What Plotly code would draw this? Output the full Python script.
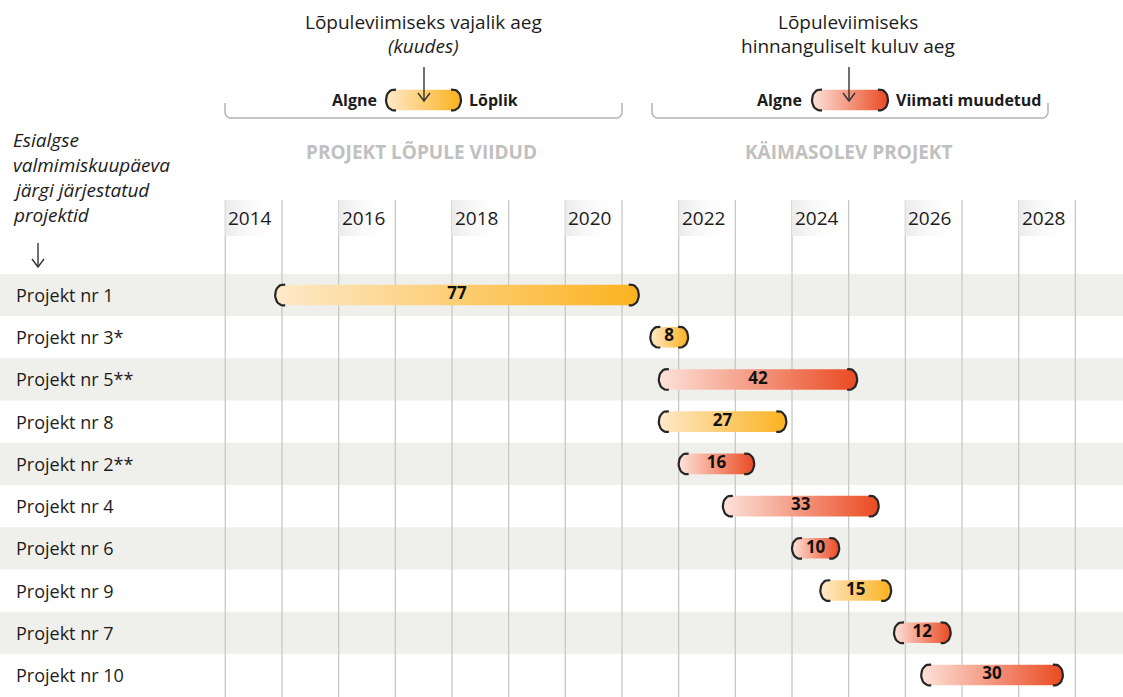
import math
import plotly.graph_objects as go

# ---------------- data ----------------
projects = ["Projekt nr 1", "Projekt nr 3*", "Projekt nr 5**", "Projekt nr 8", "Projekt nr 2**",
            "Projekt nr 4", "Projekt nr 6", "Projekt nr 9", "Projekt nr 7", "Projekt nr 10"]
start_year = [2014.88, 2021.50, 2021.65, 2021.65, 2022.00, 2022.78, 2024.00, 2024.50, 2025.80, 2026.28]
duration_months = [77, 8, 42, 27, 16, 33, 10, 15, 12, 30]
status = ["done", "done", "ongoing", "done", "ongoing", "ongoing", "ongoing", "done", "ongoing", "ongoing"]
grid_years = list(range(2014, 2030))
label_years = list(range(2014, 2029, 2))

# ---------------- geometry helpers ----------------
W, H = 1123, 697
PX_PER_YEAR = 56.67
X_2014 = 225.3
ROW0_PX = 295.0
ROW_PX = 42.22

def xd(px):
    return 2014 + (px - X_2014) / PX_PER_YEAR

def yd(py):
    return (py - ROW0_PX) / ROW_PX

def xp(px):
    return px / W

def yp(py):
    return 1 - py / H

FONT = "Open Sans"
DARK = "#1c1c1c"
COLORS = {
    "done": ["#fee9c9", "#fbb21f"],
    "ongoing": ["#fde2da", "#ea4a22"],
}

fig = go.Figure()

def arc(cx, cy, rx, ry, a0, a1, n=14):
    xs, ys = [], []
    for k in range(n + 1):
        t = math.radians(a0 + (a1 - a0) * k / n)
        xs.append(cx + rx * math.cos(t))
        ys.append(cy + ry * math.sin(t))
    return xs, ys

def pill(x0, x1, yc, colors, hpx=10.3, rpx=7.5, tail=2.5):
    dx = 1 / PX_PER_YEAR
    dy = 1 / ROW_PX
    rx, h, tl = rpx * dx, hpx * dy, tail * dx
    xs, ys = [], []
    ax, ay = arc(x1 - rx, yc, rx, h, -90, 90); xs += ax; ys += ay
    ax, ay = arc(x0 + rx, yc, rx, h, 90, 270); xs += ax; ys += ay
    xs.append(xs[0]); ys.append(ys[0])
    fig.add_trace(go.Scatter(
        x=xs, y=ys, fill="toself", mode="lines", line=dict(width=0),
        fillgradient=dict(type="horizontal", colorscale=[[0, colors[0]], [1, colors[1]]]),
        hoverinfo="skip", showlegend=False))
    # brackets
    bx, by = [x0 + rx + tl], [yc - h]
    ax, ay = arc(x0 + rx, yc, rx, h, 270, 90); bx += ax; by += ay
    bx += [x0 + rx + tl, None]; by += [yc + h, None]
    bx += [x1 - rx - tl]; by += [yc - h]
    ax, ay = arc(x1 - rx, yc, rx, h, -90, 90); bx += ax; by += ay
    bx += [x1 - rx - tl]; by += [yc + h]
    fig.add_trace(go.Scatter(x=bx, y=by, mode="lines", line=dict(color="#262626", width=2.2),
                             hoverinfo="skip", showlegend=False))

shapes = []
# row bands
for i in range(len(projects)):
    if i % 2 == 0:
        shapes.append(dict(type="rect", xref="paper", yref="y", x0=0, x1=1, y0=i - 0.5, y1=i + 0.5,
                           fillcolor="#efefeb", line=dict(width=0), layer="below"))
# grid lines
for yr in grid_years:
    shapes.append(dict(type="line", xref="x", yref="y", x0=yr, x1=yr, y0=yd(200), y1=yd(H),
                       line=dict(color="#c8c8c8", width=1.3), layer="below"))

# year label backgrounds
for yr in label_years:
    x0, x1 = yr, yr + 52 / PX_PER_YEAR
    y0, y1 = yd(200), yd(236)
    fig.add_trace(go.Scatter(
        x=[x0, x1, x1, x0, x0], y=[y0, y0, y1, y1, y0], fill="toself", mode="lines",
        line=dict(width=0),
        fillgradient=dict(type="horizontal", colorscale=[[0, "#ebebeb"], [1, "rgba(255,255,255,0)"]]),
        hoverinfo="skip", showlegend=False))

# bars
for i, (s, m, st) in enumerate(zip(start_year, duration_months, status)):
    pill(s, s + m / 12, i, COLORS[st])

fig.add_trace(go.Scatter(
    x=[s + m / 24 for s, m in zip(start_year, duration_months)],
    y=list(range(len(projects))),
    text=[str(m) for m in duration_months], mode="text",
    textfont=dict(family=FONT, size=17, color="#111111", weight="bold"),
    textposition="middle center", hoverinfo="skip", showlegend=False))

# legend pills
pill(xd(386), xd(461), yd(100), COLORS["done"])
pill(xd(812), xd(888), yd(100), COLORS["ongoing"])

annotations = []
# row labels
for i, p in enumerate(projects):
    annotations.append(dict(x=xp(14), xref="paper", y=i, yref="y", text=p, showarrow=False,
                            xanchor="left", yanchor="middle", font=dict(family=FONT, size=18, color=DARK)))
# year labels
for yr in label_years:
    annotations.append(dict(x=yr + 1 / PX_PER_YEAR, xref="x", y=yd(218), yref="y", text=str(yr),
                            showarrow=False, xanchor="left", yanchor="middle",
                            font=dict(family=FONT, size=19, color=DARK)))

def txt(px, py, text, size=16, color=DARK, anchor="center", bold=False, italic=False):
    annotations.append(dict(x=xp(px), y=yp(py), xref="paper", yref="paper", text=text, showarrow=False,
                            xanchor=anchor, yanchor="middle",
                            font=dict(family=FONT, size=size, color=color,
                                      weight="bold" if bold else "normal",
                                      style="italic" if italic else "normal")))

txt(423, 22, "Lõpuleviimiseks vajalik aeg", 19)
txt(423, 46, "(kuudes)", 19, italic=True)
txt(848, 22, "Lõpuleviimiseks", 19)
txt(848, 46, "hinnanguliselt kuluv aeg", 19)
txt(379, 100, "Algne", 16, anchor="right", bold=True)
txt(467, 100, "Lõplik", 16, anchor="left", bold=True)
txt(804, 100, "Algne", 16, anchor="right", bold=True)
txt(894, 100, "Viimati muudetud", 16, anchor="left", bold=True)
txt(421, 152, "PROJEKT LÕPULE VIIDUD", 19, color="#c0c0c0", bold=True)
txt(848, 152, "KÄIMASOLEV PROJEKT", 19, color="#c0c0c0", bold=True)
for k, line in enumerate(["Esialgse", "valmimiskuupäeva", "järgi järjestatud", "projektid"]):
    txt(11, 140 + k * 25, line, 19, anchor="left", italic=True)

def ppath(points):
    d = ""
    for k, (px, py) in enumerate(points):
        d += ("M" if k == 0 else "L") + f"{xp(px):.5f},{yp(py):.5f} "
    return d

def arrow(px, y0, y1, hw=6, hh=8, width=1.4):
    shapes.append(dict(type="path", xref="paper", yref="paper", path=ppath([(px, y0), (px, y1)]),
                       line=dict(color="#333333", width=width)))
    shapes.append(dict(type="path", xref="paper", yref="paper",
                       path=ppath([(px - hw, y1 - hh), (px, y1), (px + hw, y1 - hh)]),
                       line=dict(color="#333333", width=width)))

arrow(424, 67, 101)
arrow(849, 67, 101)
arrow(38, 243, 267)

def brace(x0, x1, ytop=103, ybot=118, r=6):
    pts = [(x0, ytop)]
    for k in range(0, 11):
        t = math.radians(180 - 90 * k / 10)
        pts.append((x0 + r + r * math.cos(t), ybot - r + r * math.sin(t)))
    for k in range(0, 11):
        t = math.radians(90 - 90 * k / 10)
        pts.append((x1 - r + r * math.cos(t), ybot - r + r * math.sin(t)))
    pts.append((x1, ytop))
    shapes.append(dict(type="path", xref="paper", yref="paper", path=ppath(pts),
                       line=dict(color="#b4b4b4", width=1.5)))

brace(225, 622)
brace(652, 1048)

fig.update_layout(
    width=W, height=H, margin=dict(l=0, r=0, t=0, b=0),
    paper_bgcolor="white", plot_bgcolor="white",
    xaxis=dict(range=[xd(0), xd(W)], showgrid=False, zeroline=False, showticklabels=False, fixedrange=True),
    yaxis=dict(range=[yd(H), yd(0)], showgrid=False, zeroline=False, showticklabels=False, fixedrange=True),
    shapes=shapes, annotations=annotations, showlegend=False,
)

fig.write_html("out.html", config={"displayModeBar": False},
               post_script="document.body.style.margin='0';document.body.style.overflow='hidden';")
